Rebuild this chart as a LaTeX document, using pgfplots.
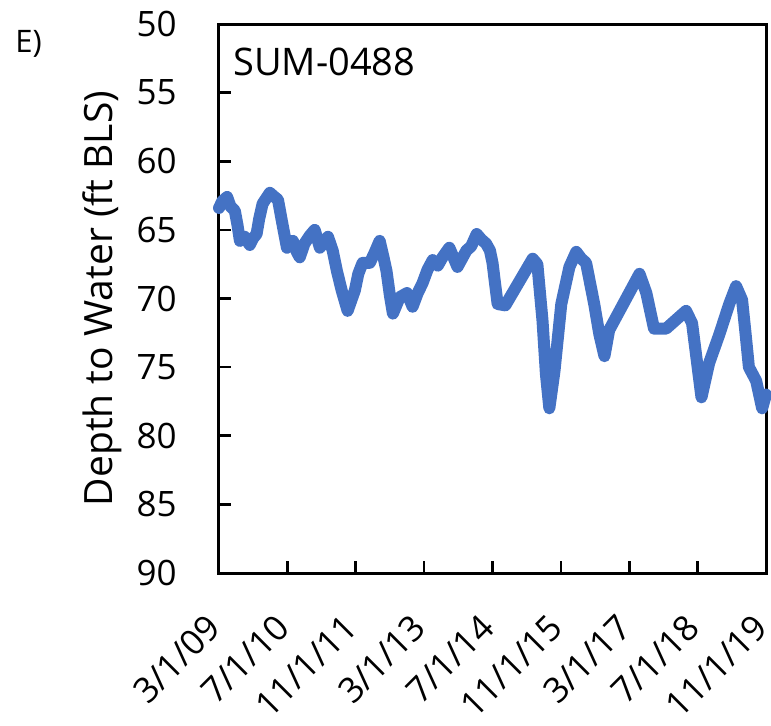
\documentclass[border=0pt]{standalone}
\usepackage{pgfplots}
\pgfplotsset{compat=1.18}
\usepackage{fontspec}
\setmainfont{Open Sans}
\definecolor{lineblue}{RGB}{68,114,196}
\begin{document}
\begin{tikzpicture}
\begin{axis}[
  name=ax,
  scale only axis,
  width=273.5pt, height=274.5pt,
  xmin=0, xmax=128,
  ymin=50, ymax=90,
  y dir=reverse,
  axis line style={line width=1.5pt},
  tick style={line width=1.3pt, black},
  major tick length=6pt,
  tick pos=left,
  tick align=inside,
  xtick={0,16,32,48,64,80,96,112,128},
  xticklabels={3/1/09,7/1/10,11/1/11,3/1/13,7/1/14,11/1/15,3/1/17,7/1/18,11/1/19},
  ytick={50,55,...,90},
  font=\fontsize{17.5}{21}\selectfont,
  /pgf/number format/assume math mode=true,
  xticklabel style={xshift=-7pt, yshift=-19.5pt, rotate=45, anchor=north east, inner sep=0pt},
  yticklabel style={inner sep=0pt, xshift=-21pt},
  ylabel={Depth to Water (ft BLS)},
  ylabel style={at={(axis description cs:-0.1938,0.5)}, anchor=base, inner sep=0pt,
    font=\fontsize{19.5}{23}\selectfont},
  clip=false,
]
\addplot[lineblue, line width=6pt, line join=round, line cap=round] coordinates {
(0,63.4) (0.8,62.9) (1.9,62.6) (2.7,63.3) (3.7,63.6) (4.3,64.6) (4.9,65.8)
(6.0,65.5) (7.2,66.1) (8.0,65.6) (8.8,65.3) (9.4,64.2) (10.2,63.1)
(11.9,62.3) (13.0,62.6) (13.8,62.8) (14.8,64.5) (15.9,66.3) (17.3,65.8)
(18.2,66.6) (18.9,67.0) (20.0,66.0) (21.3,65.4) (22.4,65.0) (23.6,66.3)
(24.5,65.9) (25.5,65.5) (26.6,66.5) (27.6,68.0) (28.7,69.4) (30.1,70.9)
(31.8,69.4) (32.6,68.2) (33.6,67.4) (35.3,67.4) (36.5,66.6) (37.6,65.8)
(38.5,67.0) (39.2,68.0) (40.0,69.8) (40.7,71.1) (42.3,69.9) (44.0,69.6)
(45.3,70.6) (46.5,69.6) (47.6,68.9) (48.8,67.9) (50.0,67.2) (51.2,67.6)
(52.3,67.0) (53.9,66.3) (55.0,67.1) (55.8,67.7) (57.9,66.5) (59.0,66.2)
(60.3,65.3) (61.4,65.7) (62.5,66.0) (63.4,66.5) (64.0,67.4) (65.2,70.4)
(67.0,70.5) (73.4,67.1) (74.5,67.5) (75.7,71.6) (76.5,75.5) (77.3,78.0)
(78.5,75.3) (80.1,70.4) (82.0,67.7) (83.6,66.6) (84.8,67.1) (85.9,67.4)
(87.8,70.4) (89.0,72.6) (90.2,74.2) (91.3,72.3) (98.4,68.2) (100.0,69.6)
(101.8,72.2) (104.6,72.2) (109.3,70.9) (110.7,71.8) (111.8,74.5) (112.9,77.2)
(114.7,74.7) (117.1,72.6) (119.4,70.4) (121.0,69.1) (122.4,70.1) (123.2,72.5)
(124.0,75.0) (125.7,76.0) (127.1,78.0) (128.0,77.0)
};
\node[anchor=base west, inner sep=0pt, font=\fontsize{19}{23}\selectfont]
  at ([xshift=7pt,yshift=-25.5pt]rel axis cs:0,1) {SUM-0488};
\node[anchor=base west, inner sep=0pt, font=\fontsize{15.5}{18}\selectfont]
  at ([xshift=-102pt,yshift=-14pt]rel axis cs:0,1) {E)};
\end{axis}
\pgfresetboundingbox
\path[use as bounding box] ([xshift=-109.5pt,yshift=-76pt]ax.south west) rectangle ([xshift=2.5pt,yshift=12pt]ax.north east);
\end{tikzpicture}
\end{document}
